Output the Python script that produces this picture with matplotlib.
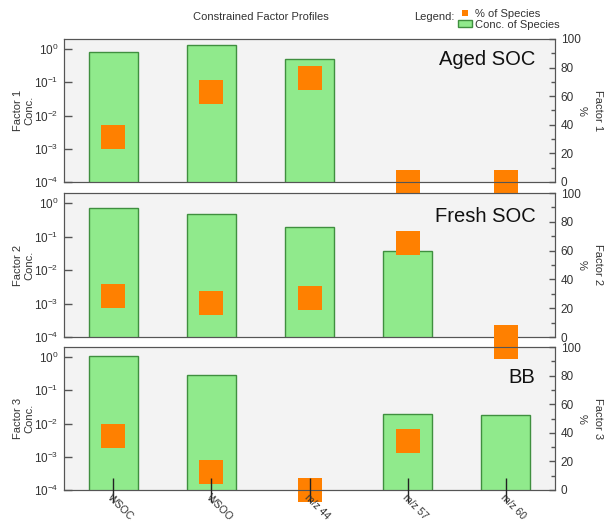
"""Constrained factor profiles: conc. (log bars) + % of species (orange squares)."""
import numpy as np
import matplotlib
matplotlib.use("Agg")
import matplotlib.pyplot as plt
from matplotlib.lines import Line2D
from matplotlib.patches import Patch
from matplotlib.ticker import MultipleLocator, NullLocator

plt.rcParams["font.family"] = ["Liberation Sans", "DejaVu Sans"]
plt.rcParams["mathtext.default"] = "regular"

# ---------------- data ----------------
species = ["WSOC", "WSOO", "m/z 44", "m/z 57", "m/z 60"]
factor_names = ["Aged SOC", "Fresh SOC", "BB"]

conc_f1 = [0.81, 1.35, 0.49, np.nan, np.nan]
conc_f2 = [0.72, 0.48, 0.19, 0.037, np.nan]
conc_f3 = [1.05, 0.285, np.nan, 0.019, 0.018]

pct_f1 = [31.5, 63, 72.5, 0, 0]
pct_f2 = [28.7, 23.4, 27.4, 65, 0]
pct_f3 = [38, 12.5, 0, 34.5, 100]

conc = [conc_f1, conc_f2, conc_f3]
pct = [pct_f1, pct_f2, pct_f3]

# ---------------- style ----------------
W, H = 605, 526
BG = "#f3f3f3"
GREEN = "#90ea8c"
GREEN_EDGE = "#3f8f3f"
ORANGE = "#ff8000"
SPINE = "#555555"
TXT = "#333333"

# panel pixel boxes (left, top, right, bottom)
boxes = [(64, 39, 555, 182), (64, 193, 555, 337), (64, 347, 555, 490)]
label_tops = [0.92, 0.90, 0.853]

fig = plt.figure(figsize=(W / 100, H / 100), dpi=100)
x = np.arange(len(species))

for i, (l, t, r, b) in enumerate(boxes):
    ax = fig.add_axes([l / W, 1 - b / H, (r - l) / W, (b - t) / H])
    ax.set_facecolor(BG)
    ax.bar(x, conc[i], width=0.5, color=GREEN, edgecolor=GREEN_EDGE, lw=1)
    ax.set_yscale("log")
    ax.set_ylim(1e-4, 2)
    ax.set_xlim(-0.5, len(species) - 0.5)
    ax.set_yticks([1e-4, 1e-3, 1e-2, 1e-1, 1])
    ax.yaxis.set_minor_locator(NullLocator())
    ax.tick_params(axis="y", direction="in", length=6, width=1, color=SPINE,
                   labelcolor=TXT, labelsize=8.5, pad=4)
    ax.tick_params(axis="x", length=0, labelbottom=False)
    for s in ax.spines.values():
        s.set_color(SPINE)
    ax.text(-0.082, 0.5, f"Factor {i + 1}\nConc.", transform=ax.transAxes,
            rotation=90, ha="center", va="center", multialignment="center",
            fontsize=8, color=TXT)
    ax.text(0.96, label_tops[i], factor_names[i], transform=ax.transAxes,
            ha="right", va="top", fontsize=14.5, color="#111111")
    ax.set_zorder(1)

    ax2 = ax.twinx()
    ax2.set_zorder(5)
    ax2.set_axisbelow(False)
    ax2.plot(x, pct[i], ls="", marker="s", ms=17, mew=0, color=ORANGE,
             clip_on=False)
    ax2.set_ylim(0, 100)
    ax2.yaxis.set_major_locator(MultipleLocator(20))
    ax2.yaxis.set_minor_locator(MultipleLocator(10))
    ax2.tick_params(axis="y", which="major", direction="in", length=4.5,
                    width=1, color=SPINE, labelcolor=TXT, labelsize=8.5, pad=4)
    ax2.tick_params(axis="y", which="minor", direction="in", length=3,
                    width=1, color=SPINE)
    for s in ax2.spines.values():
        s.set_color(SPINE)
    ax2.text(1.055, 0.5, "%", transform=ax2.transAxes, rotation=270,
             ha="center", va="center", fontsize=8, color=TXT)
    ax2.text(1.088, 0.5, f"Factor {i + 1}", transform=ax2.transAxes,
             rotation=270, ha="center", va="center", fontsize=8, color=TXT)

    if i == len(boxes) - 1:
        # species ticks drawn on the top layer so they sit over the squares
        ax2.xaxis.set_visible(True)
        ax2.set_xticks(x)
        ax2.set_xticklabels(species, rotation=-45, ha="left", va="top",
                            rotation_mode="anchor", fontsize=7.5, color=TXT)
        ax2.tick_params(axis="x", direction="inout", length=17, width=1,
                        color="#222222", pad=-7, labelbottom=True)

# ---------------- title / legend ----------------
fig.text(261 / W, 1 - 17 / H, "Constrained Factor Profiles", ha="center",
         va="center", fontsize=8, color=TXT)
fig.text(414 / W, 1 - 17 / H, "Legend:", ha="left", va="center",
         fontsize=8, color=TXT)
handles = [Line2D([], [], ls="", marker="s", ms=4, mew=0, color=ORANGE),
           Patch(facecolor=GREEN, edgecolor=GREEN_EDGE)]
fig.legend(handles, ["% of Species", "Conc. of Species"], loc="upper left",
           bbox_to_anchor=(458 / W, 1 - 9 / H), frameon=False, fontsize=8,
           handlelength=1.3, handleheight=0.6, handletextpad=0.2,
           labelspacing=0.05, borderpad=0, borderaxespad=0,
           labelcolor=TXT)

fig.savefig("out.png", dpi=100)
